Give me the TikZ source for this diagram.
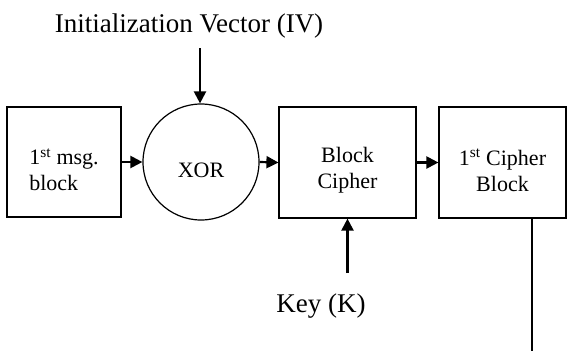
\documentclass[tikz,border=0pt]{standalone}
\usepackage{fontspec}
\setmainfont{Liberation Serif}
\usetikzlibrary{arrows.meta}

\tikzset{cbcSketchBox/.style={
    draw=black,
    line width=1.2pt,
    inner sep=0pt,
  }
}
\tikzset{cbcSketchText/.style={
    font=\fontsize{22}{26}\selectfont,
    inner sep=0pt,
    align=center,
    yshift=-8pt,
  }
}
\tikzset{cbcSketchArrow/.style={
    -{Triangle[length=12pt,width=12pt]},
    line width=2.2pt,
    black,
  }
}
\tikzset{cbcSketchLabel/.style={
    font=\fontsize{27}{30}\selectfont,
    inner sep=0pt,
  }
}

\begin{document}
\begin{tikzpicture}[x=1pt,y=-1pt]
  \useasboundingbox (0,0) rectangle (569,351);

  \node [cbcSketchBox, minimum width=114pt, minimum height=110pt,
    label={[cbcSketchText, align=left]center:1\textsuperscript{st} msg.\\block}] (msgblock)
  at (64,162) {};
  \node [cbcSketchBox, circle, minimum size=116pt,
    label={[cbcSketchText]center:XOR}] (xor)
  at (201,162) {};
  \node [cbcSketchBox, minimum width=137pt, minimum height=111pt,
    label={[cbcSketchText]center:Block\\Cipher}] (cipher)
  at (347.5,162.5) {};
  \node [cbcSketchBox, minimum width=127pt, minimum height=111pt,
    label={[cbcSketchText]center:1\textsuperscript{st} Cipher\\Block}] (cipherblock)
  at (502.5,162.5) {};

  \node [cbcSketchLabel] (iv) at (189,26) {Initialization Vector (IV)};
  \node [cbcSketchLabel] (key) at (321,306) {Key (K)};

  \coordinate (ivstart) at (200,48);
  \coordinate (keystart) at (347.5,273);
  \coordinate (outend) at (532,351);

  \draw[cbcSketchArrow] (ivstart) -- (xor.north -| ivstart);
  \draw[cbcSketchArrow] (msgblock.east) -- (xor.west);
  \draw[cbcSketchArrow] (xor.east) -- (cipher.west);
  \draw[cbcSketchArrow] (cipher.east) -- (cipherblock.west);
  \draw[cbcSketchArrow] (keystart) -- (cipher.south);
  \draw[line width=1.2pt] (cipherblock.south -| outend) -- (outend);
\end{tikzpicture}
\end{document}
